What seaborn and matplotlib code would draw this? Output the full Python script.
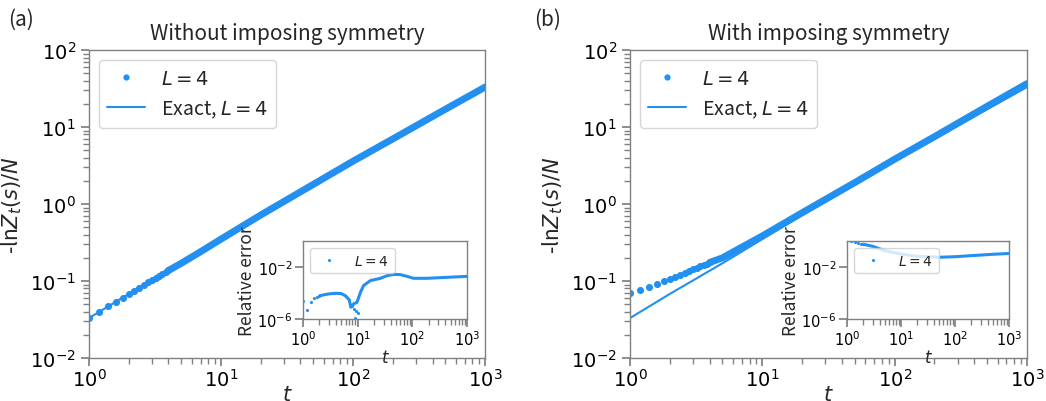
# Free energy density vs t, with and without symmetry (two log-log panels + insets)

import matplotlib
matplotlib.use("Agg")
import matplotlib.pyplot as plt
import seaborn as sns
from matplotlib.lines import Line2D
from matplotlib.ticker import LogLocator, NullLocator

# 1. Values

# early t points (step 0.2), drawn as separate dots
t_dots = [1.0, 1.2, 1.4, 1.6, 1.8, 2.0, 2.2, 2.4, 2.6, 2.8, 3.0, 3.2, 3.4, 3.6, 3.8, 4.0]
# later t, where the dots merge into a band
t_band = [4, 5, 7, 10, 20, 50, 100, 200, 500, 1000]

t_exact = [1, 2, 3, 5, 10, 20, 50, 100, 200, 500, 1000]
exact = [0.033, 0.068, 0.102, 0.17, 0.35, 0.72, 1.8, 3.6, 7.0, 17, 33]

free_dots = [0.033, 0.040, 0.047, 0.054, 0.061, 0.068, 0.075, 0.082, 0.089, 0.096,
             0.102, 0.109, 0.116, 0.123, 0.130, 0.137]
free_band = [0.137, 0.17, 0.24, 0.35, 0.72, 1.8, 3.6, 7.0, 17, 33]

sym_dots = [0.069, 0.077, 0.084, 0.091, 0.099, 0.106, 0.113, 0.120, 0.127, 0.135,
            0.142, 0.148, 0.155, 0.161, 0.168, 0.174]
sym_band = [0.174, 0.20, 0.275, 0.385, 0.77, 1.9, 3.82, 7.5, 18.6, 36.6]

# relative error (insets)
err_t_dots = [1.0, 1.2, 1.4, 1.6, 1.8, 2.0]
err_free_dots = [2.3e-5, 4.9e-6, 2.1e-5, 3.9e-5, 5e-5, 6e-5]
err_t_free = [2.0, 2.5, 3, 4, 5, 6, 7, 7.5, 8.5, 9.7, 11.2, 12.8, 17, 26, 34, 45,
              60, 80, 105, 185, 430, 1000]
err_free = [6e-5, 7.5e-5, 8.5e-5, 9.5e-5, 9e-5, 6e-5, 3e-5, 8e-6, 1.5e-5, 1.9e-5,
            1.1e-4, 3.7e-4, 8.9e-4, 1.35e-3, 2.1e-3, 2.7e-3, 2.6e-3, 1.9e-3,
            1.35e-3, 1.35e-3, 1.6e-3, 1.9e-3]
err_out_t = [7.8, 8.6, 9.0, 9.4, 10.2]
err_out = [9.5e-6, 6e-6, 1.1e-6, 3.9e-6, 3e-6]

err_sym_dots = [1.1, 0.93, 0.79, 0.69, 0.62, 0.56]
err_t_sym = [2, 3, 5, 10, 20, 50, 100, 200, 500, 1000]
err_sym = [0.56, 0.39, 0.18, 0.10, 0.066, 0.056, 0.062, 0.075, 0.095, 0.11]

# 2. Style
sns.set_theme(style="ticks", rc={
    "axes.edgecolor": "gray",
    "xtick.color": "gray",
    "ytick.color": "gray",
    "xtick.labelcolor": "black",
    "ytick.labelcolor": "black",
    "axes.linewidth": 1.0,
})
plt.rcParams["font.family"] = ["DejaVu Sans"]
plt.rcParams["mathtext.fontset"] = "dejavusans"
text_font = ["Noto Sans CJK SC", "DejaVu Sans"]

blue = "#2290f0"


def main_panel(ax, dots, band, title):
    ax.set_xscale("log")
    ax.set_yscale("log")
    sns.lineplot(x=t_exact, y=exact, ax=ax, color=blue, lw=1.5)
    sns.scatterplot(x=t_dots, y=dots, ax=ax, color=blue, s=26, linewidth=0)
    sns.lineplot(x=t_band, y=band, ax=ax, color=blue, lw=5,
                 solid_capstyle="round")
    ax.set_xlim(1, 1e3)
    ax.set_ylim(1e-2, 1e2)
    ax.set_xticks([1, 10, 100, 1000])
    ax.set_yticks([1e-2, 1e-1, 1, 10, 100])
    ax.tick_params(labelsize=14)
    ax.tick_params(axis="x", pad=1)
    ax.set_xlabel("$t$", fontsize=15, labelpad=-4)
    ax.set_ylabel("-ln$Z_t(s)/N$", fontsize=15, family=text_font)
    ax.set_title(title, fontsize=15, pad=8, family=text_font)
    handles = [
        Line2D([], [], ls="none", marker="o", ms=4.5, color=blue, mec="none"),
        Line2D([], [], color=blue, lw=1.5),
    ]
    ax.legend(handles, ["$L=4$", "Exact, $L=4$"], loc="upper left",
              prop={"family": text_font, "size": 14})


def inset_panel(ax, e_dots, e_t, e, out_t=None, out=None):
    ax.set_xscale("log")
    ax.set_yscale("log")
    sns.scatterplot(x=err_t_dots, y=e_dots, ax=ax, color=blue, s=5,
                    linewidth=0, clip_on=True)
    sns.lineplot(x=e_t, y=e, ax=ax, color=blue, lw=2.2)
    if out_t is not None:
        sns.scatterplot(x=out_t, y=out, ax=ax, color=blue, s=5, linewidth=0)
    ax.set_xlim(1, 1e3)
    ax.set_ylim(1e-6, 1)
    ax.set_xticks([1, 10, 100, 1000])
    ax.set_yticks([1e-6, 1e-2])
    ax.yaxis.set_minor_locator(NullLocator())
    ax.xaxis.set_minor_locator(LogLocator(subs=range(2, 10)))
    ax.tick_params(labelsize=10.5, pad=1.5)
    ax.set_xlabel("$t$", fontsize=12, labelpad=0)
    ax.set_ylabel("Relative error", fontsize=12.5, labelpad=1, family=text_font)
    handle = Line2D([], [], ls="none", marker="o", ms=2.2, color=blue, mec="none")
    ax.legend([handle], ["$L=4$"], loc="upper left", fontsize=10)


# 3. Figure
fig = plt.figure(figsize=(10.46, 4.02), dpi=100)

ax_a = fig.add_axes([0.0851, 0.107, 0.3786, 0.766])
ax_b = fig.add_axes([0.6023, 0.107, 0.3795, 0.766])
main_panel(ax_a, free_dots, free_band, "Without imposing symmetry")
main_panel(ax_b, sym_dots, sym_band, "With imposing symmetry")

in_a = fig.add_axes([0.2897, 0.204, 0.1568, 0.194])
in_b = fig.add_axes([0.8098, 0.204, 0.1549, 0.194])
inset_panel(in_a, err_free_dots, err_t_free, err_free, err_out_t, err_out)
inset_panel(in_b, err_sym_dots, err_t_sym, err_sym)

fig.text(0.008, 0.95, "(a)", fontsize=15, va="center", family=text_font)
fig.text(0.511, 0.95, "(b)", fontsize=15, va="center", family=text_font)

fig.savefig("out.png", dpi=100)
plt.close()
